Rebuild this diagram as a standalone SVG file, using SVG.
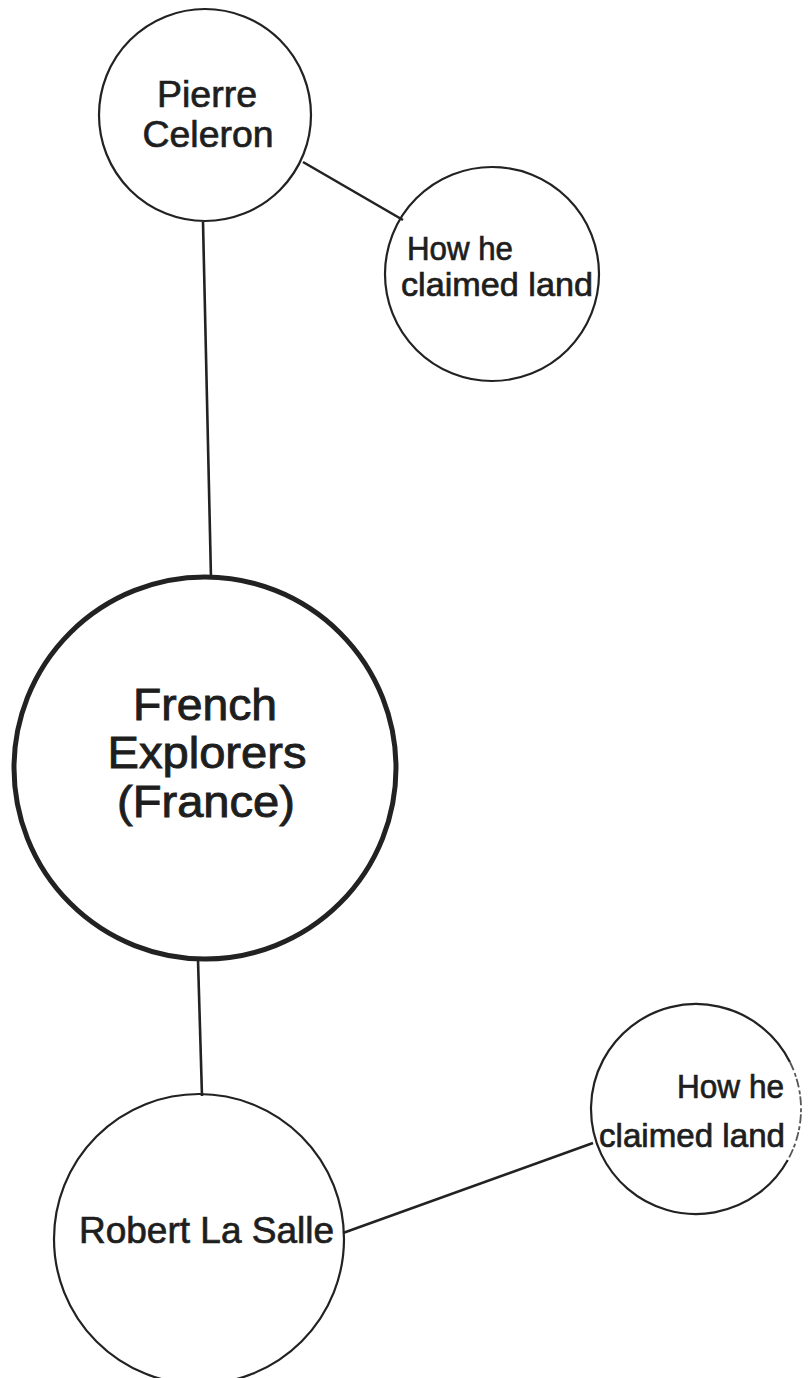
<svg xmlns="http://www.w3.org/2000/svg" width="810" height="1378" viewBox="0 0 810 1378">
<style>
.n{fill:none;stroke:#222;stroke-width:2.2}
.big{fill:none;stroke:#222;stroke-width:5}
.c{stroke:#222;stroke-width:2.6;fill:none}
.faint{fill:none;stroke:#555;stroke-width:1.8;stroke-dasharray:9 3 4 2}
text{font-family:"Liberation Sans",Arial,sans-serif;fill:#1e1e1e;stroke:#1e1e1e;stroke-width:0.7}
.s{font-size:33px}
.p{font-size:36px;text-anchor:middle}
.l{font-size:45px;text-anchor:middle;stroke-width:0.9}
</style>
<rect width="810" height="1378" fill="#fff"/>
<g id="connectors">
<line class="c" x1="303" y1="162" x2="403" y2="220"/>
<line class="c" x1="203" y1="222" x2="211" y2="578"/>
<line class="c" x1="198" y1="960" x2="202" y2="1096"/>
<line class="c" x1="343" y1="1233" x2="593" y2="1143"/>
</g>
<g id="pierre">
<circle class="n" cx="205" cy="115" r="106"/>
<text class="p" x="207" y="107" textLength="100" lengthAdjust="spacingAndGlyphs">Pierre</text>
<text class="p" x="208" y="147" textLength="131" lengthAdjust="spacingAndGlyphs">Celeron</text>
</g>
<g id="pierre-land">
<circle class="n" cx="492" cy="274" r="107"/>
<text class="s" x="407" y="260" textLength="106" lengthAdjust="spacingAndGlyphs">How he</text>
<text class="s" x="401" y="296" textLength="192" lengthAdjust="spacingAndGlyphs">claimed land</text>
</g>
<g id="french">
<circle class="big" cx="205" cy="768" r="191"/>
<text class="l" x="205" y="720" textLength="144" lengthAdjust="spacingAndGlyphs">French</text>
<text class="l" x="207" y="768" textLength="199" lengthAdjust="spacingAndGlyphs">Explorers</text>
<text class="l" x="206" y="817" textLength="178" lengthAdjust="spacingAndGlyphs">(France)</text>
</g>
<g id="robert">
<circle class="n" cx="199" cy="1239" r="145"/>
<text class="s" x="79" y="1243" textLength="255" lengthAdjust="spacingAndGlyphs" style="font-size:36px">Robert La Salle</text>
</g>
<g id="robert-land">
<path class="n" d="M787.8,1160 A105,105 0 1 1 789.9,1062"/>
<path class="faint" d="M789.9,1062 A105,105 0 0 1 787.8,1160"/>
<text class="s" x="784" y="1098" text-anchor="end" textLength="107" lengthAdjust="spacingAndGlyphs">How he</text>
<text class="s" x="785" y="1147" text-anchor="end" textLength="186" lengthAdjust="spacingAndGlyphs">claimed land</text>
</g>
</svg>
